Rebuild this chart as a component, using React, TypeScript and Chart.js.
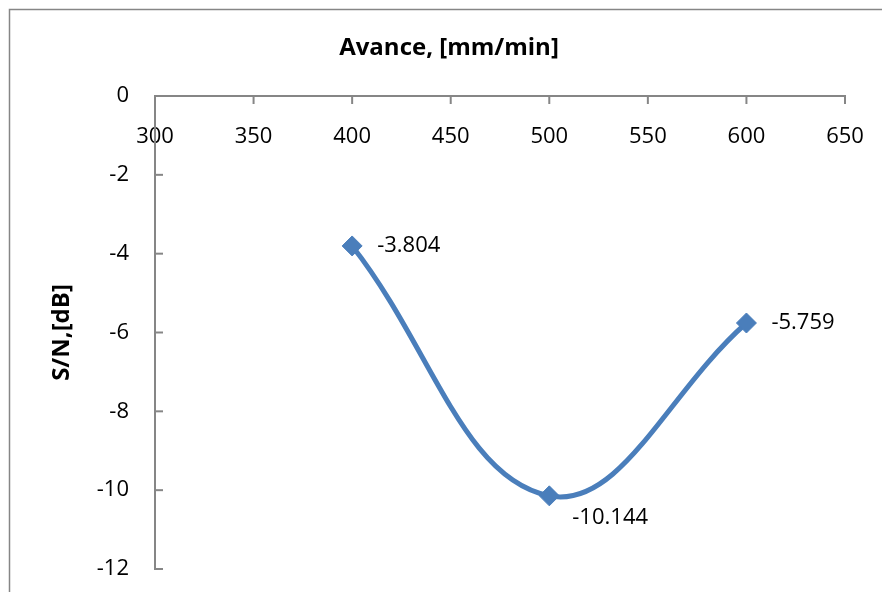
import React, { useEffect, useRef } from "react";
import { Chart, registerables } from "chart.js";

Chart.register(...registerables);

const feedRates = [400, 500, 600];
const snValues = [-3.804, -10.144, -5.759];
const pointLabels = ["-3.804", "-10.144", "-5.759"];
const xTickValues = [300, 350, 400, 450, 500, 550, 600, 650];
const yTickValues = [0, -2, -4, -6, -8, -10, -12];
const chartTitle = "Avance, [mm/min]";
const yTitle = "S/N,[dB]";

const FONT = "'Open Sans', sans-serif";
const AXIS = "#868686";
const LINE = "#4A7EBB";

const decorPlugin = {
  id: "decor",
  afterDraw(chart: any) {
    const { ctx, chartArea, scales } = chart;
    const xs = scales.x;
    const ys = scales.y;
    ctx.save();
    // outer chart border
    ctx.strokeStyle = AXIS;
    ctx.lineWidth = 1.5;
    ctx.strokeRect(9.5, 9.5, 1000, 1000);
    // inner tick marks
    ctx.strokeStyle = AXIS;
    ctx.lineWidth = 2;
    const y0 = ys.getPixelForValue(0);
    xTickValues.forEach((v) => {
      const px = xs.getPixelForValue(v);
      ctx.beginPath();
      ctx.moveTo(px, y0);
      ctx.lineTo(px, y0 + 8);
      ctx.stroke();
    });
    yTickValues.forEach((v) => {
      const py = ys.getPixelForValue(v);
      ctx.beginPath();
      ctx.moveTo(chartArea.left, py);
      ctx.lineTo(chartArea.left + 8, py);
      ctx.stroke();
    });
    // titles
    ctx.fillStyle = "#000";
    ctx.font = `bold 24px ${FONT}`;
    ctx.textAlign = "center";
    ctx.textBaseline = "middle";
    ctx.fillText(chartTitle, 449, 48);
    ctx.save();
    ctx.translate(62, (chartArea.top + chartArea.bottom) / 2);
    ctx.rotate(-Math.PI / 2);
    ctx.fillText(yTitle, 0, 0);
    ctx.restore();
    // data labels
    ctx.font = `22px ${FONT}`;
    ctx.textAlign = "left";
    const meta = chart.getDatasetMeta(0);
    meta.data.forEach((pt: any, i: number) => {
      const dy = i === 1 ? 22 : 0;
      const dx = i === 1 ? 23 : 25;
      ctx.fillText(pointLabels[i], pt.x + dx, pt.y + dy);
    });
    ctx.restore();
  },
};

export default function App() {
  const ref = useRef<HTMLCanvasElement>(null);
  useEffect(() => {
    if (!ref.current) return;
    const chart = new Chart(ref.current, {
      type: "line",
      data: {
        datasets: [
          {
            data: feedRates.map((x, i) => ({ x, y: snValues[i] })),
            borderColor: LINE,
            backgroundColor: LINE,
            borderWidth: 5,
            tension: 0.4,
            pointStyle: "rectRot",
            pointRadius: 10,
            pointBorderWidth: 1,
            pointBorderColor: LINE,
            pointBackgroundColor: LINE,
          },
        ],
      },
      options: {
        animation: false,
        responsive: false,
        maintainAspectRatio: false,
        layout: { padding: { top: 96, right: 37, bottom: 23, left: 0 } },
        plugins: {
          legend: { display: false },
          tooltip: { enabled: false },
          title: { display: false },
        },
        scales: {
          x: {
            type: "linear",
            position: { y: 0 } as any,
            min: 300,
            max: 650,
            afterBuildTicks: (s: any) => {
              s.ticks = xTickValues.map((v) => ({ value: v }));
            },
            afterFit: (s: any) => {
              s.height = 0;
              s.paddingLeft = 0;
              s.paddingRight = 0;
            },
            grid: { display: false, drawTicks: false },
            border: { display: true, color: AXIS, width: 2 },
            ticks: {
              padding: 28,
              color: "#000",
              font: { family: FONT, size: 22 },
              maxRotation: 0,
              autoSkip: false,
            },
          },
          y: {
            type: "linear",
            min: -12,
            max: 0,
            afterBuildTicks: (s: any) => {
              s.ticks = yTickValues.map((v) => ({ value: v }));
            },
            afterFit: (s: any) => {
              s.width = 155;
              s.paddingTop = 0;
              s.paddingBottom = 0;
            },
            grid: { display: false, drawTicks: false },
            border: { display: true, color: AXIS, width: 2 },
            ticks: {
              padding: 26,
              color: "#000",
              font: { family: FONT, size: 22 },
            },
          },
        },
      },
      plugins: [decorPlugin],
    });
    return () => chart.destroy();
  }, []);
  return (
    <canvas
      ref={ref}
      width={882}
      height={592}
      style={{ position: "fixed", left: 0, top: 0, width: 882, height: 592, background: "#fff" }}
    />
  );
}
